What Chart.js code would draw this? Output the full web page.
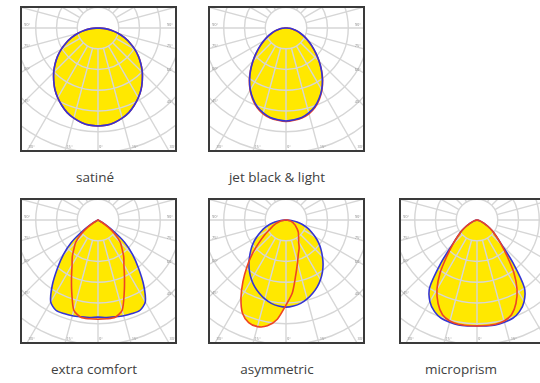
<!DOCTYPE html>
<html>
<head>
<meta charset="utf-8">
<script src="https://cdn.jsdelivr.net/npm/chart.js@4.4.1/dist/chart.umd.min.js"></script>
<style>
  body { margin: 0; width: 540px; height: 383px; overflow: hidden; position: relative; background: #fff; font-family: "Open Sans", sans-serif; }
  .box { position: absolute; width: 153px; height: 142px; border: 2px solid #3a3a3a; overflow: hidden; background: #fff; }
  .box canvas { position: absolute; }
  .caption { position: absolute; width: 180px; text-align: center; font-size: 13.5px; line-height: 18px; color: #404040; }
</style>
</head>
<body>
<script>
// luminous intensity profiles (cd/klm), one value every 5 deg from nadir (0) up to 90 deg
const gammaAngles = [0, 5, 10, 15, 20, 25, 30, 35, 40, 45, 50, 55, 60, 65, 70, 75, 80, 85, 90];

const satineC0 = [236, 235, 231, 225, 217, 206, 194, 181, 166, 151, 135, 119, 102, 85, 68, 51, 34, 17, 0];
const satineC90 = [236, 235, 231, 225, 217, 206, 194, 181, 166, 151, 135, 119, 102, 85, 68, 51, 34, 17, 0];

const jetC0 = [224, 222, 219, 212, 202, 188, 172, 153, 133, 113, 94, 77, 62, 49, 37, 27, 17, 9, 0];
const jetC90 = [225, 223, 220, 214, 204, 190, 173, 154, 133, 112, 93, 76, 61, 48, 36, 26, 17, 8, 0];

const comfortC0 = [234, 236, 237, 239, 240, 240, 228, 192, 152, 118, 84, 42, 13, 0, 0, 0, 0, 0, 0];
const comfortC90 = [239, 239, 238, 225, 185, 151, 125, 108, 90, 76, 55, 29, 7, 0, 0, 0, 0, 0, 0];

const asymC0 = [210, 208, 204, 197, 188, 178, 166, 153, 139, 124, 110, 96, 81, 67, 54, 40, 27, 13, 0];
const asymC90Left = [205, 240, 259, 266, 263, 248, 217, 181, 146, 114, 85, 63, 45, 35, 27, 18, 11, 5, 0];
const asymC90Right = [205, 176, 135, 107, 87, 75, 61, 53, 47, 42, 36, 30, 26, 21, 17, 13, 8, 4, 0];

const prismC0 = [255, 256, 257, 255, 252, 243, 227, 199, 135, 84, 60, 45, 30, 18, 10, 5, 0, 0, 0];
const prismC90 = [255, 255, 255, 252, 243, 222, 193, 155, 112, 82, 60, 45, 30, 18, 10, 5, 0, 0, 0];

const captions = ['satiné', 'jet black & light', 'extra comfort', 'asymmetric', 'microprism'];

// polar grid: rings every 50 cd/klm, spokes every 15 deg
const ringValues = [50, 100, 150, 200, 250, 300, 350, 400];
const spokeAngles = [0, 15, 30, 45, 60, 75, 90, 105, 120, 135, 150, 165, 180, 195, 210, 225, 240, 255, 270, 285, 300, 315, 330, 345];
const spokeLabels = ['0°', '15°', '30°', '45°', '60°', '75°', '90°', '105°'];

const STEP = 5;
const SLOTS = 360 / STEP;
const BLUE = '#3434d4';
const RED = '#ee4423';
const YELLOW = '#ffe800';

// layout of the five diagrams
const boxLeft = [20, 208, 399, 20, 208, 399];
const boxTop = [6, 6, 6, 198, 198, 198];
const captionCx = [95, 277, 94, 277, 461];
const captionCy = [177, 177, 369, 369, 369];
const ORIGIN_X = 76, ORIGIN_Y = 20;   // lamp position inside the frame
const R = 166;                        // canvas half size = radius of 400 cd/klm

// full 360 ring of values: index grows from nadir towards the left side
function toRing(left, right) {
  const out = new Array(SLOTS).fill(0);
  gammaAngles.forEach((g, i) => {
    out[g / STEP] = left[i];
    if (g > 0) out[(360 - g) / STEP] = right[i];
  });
  return out;
}

const ringLabels = [];
for (let i = 0; i < SLOTS; i++) ringLabels.push(i * STEP + '°');

const polarGrid = {
  id: 'polarGrid',
  beforeDatasetsDraw(chart, args, opts) {
    const r = chart.scales.r;
    const ctx = chart.ctx;
    ctx.save();
    ctx.strokeStyle = opts.color;
    ctx.lineWidth = opts.width;
    ringValues.forEach(v => {
      ctx.beginPath();
      ctx.arc(r.xCenter, r.yCenter, r.getDistanceFromCenterForValue(v), 0, Math.PI * 2);
      ctx.stroke();
    });
    spokeAngles.forEach(a => {
      const p0 = r.getPointPositionForValue(a / STEP, ringValues[0]);
      const p1 = r.getPointPositionForValue(a / STEP, r.max);
      ctx.beginPath();
      ctx.moveTo(p0.x, p0.y);
      ctx.lineTo(p1.x, p1.y);
      ctx.stroke();
    });
    ctx.restore();
  },
  afterDraw(chart, args, opts) {
    const r = chart.scales.r;
    const ctx = chart.ctx;
    const v = opts.view;
    ctx.save();
    ctx.fillStyle = '#8a8a8a';
    ctx.font = '4px "Open Sans"';
    ctx.textBaseline = 'bottom';
    spokeLabels.forEach((txt, k) => {
      [k * 15, 360 - k * 15].forEach((a, side) => {
        if (k === 0 && side === 1) return;
        const p = r.getPointPositionForValue((a % 360) / STEP, r.max);
        const dx = p.x - r.xCenter, dy = p.y - r.yCenter;
        const tx = dx < 0 ? (v.x - r.xCenter) / dx : (v.x + v.w - r.xCenter) / dx;
        const ty = dy > 0 ? (v.y + v.h - r.yCenter) / dy : Infinity;
        if (ty <= tx) {
          ctx.textAlign = 'left';
          ctx.fillText(txt, r.xCenter + dx * ty + 1, v.y + v.h - 1);
        } else {
          const y = r.yCenter + dy * tx - 1;
          ctx.textAlign = dx < 0 ? 'left' : 'right';
          ctx.fillText(txt, dx < 0 ? v.x + 2 : v.x + v.w - 2, y);
        }
      });
    });
    ctx.restore();
  }
};

const panels = [
  { c0L: satineC0, c0R: satineC0, c90L: satineC90, c90R: satineC90, redTop: false },
  { c0L: jetC0, c0R: jetC0, c90L: jetC90, c90R: jetC90, redTop: false },
  { c0L: comfortC0, c0R: comfortC0, c90L: comfortC90, c90R: comfortC90, redTop: true },
  { c0L: asymC0, c0R: asymC0, c90L: asymC90Left, c90R: asymC90Right, redTop: true },
  { c0L: prismC0, c0R: prismC0, c90L: prismC90, c90R: prismC90, redTop: true }
];
const slotOf = [0, 1, 3, 4, 5];

panels.forEach((p, n) => {
  const s = slotOf[n];
  const box = document.createElement('div');
  box.className = 'box';
  box.style.left = boxLeft[s] + 'px';
  box.style.top = boxTop[s] + 'px';
  const canvas = document.createElement('canvas');
  canvas.width = 2 * R;
  canvas.height = 2 * R;
  canvas.style.left = (ORIGIN_X - R) + 'px';
  canvas.style.top = (ORIGIN_Y - R) + 'px';
  box.appendChild(canvas);
  document.body.appendChild(box);

  const cap = document.createElement('div');
  cap.className = 'caption';
  cap.textContent = captions[n];
  cap.style.left = (captionCx[n] - 90) + 'px';
  cap.style.top = (captionCy[n] - 9) + 'px';
  document.body.appendChild(cap);

  new Chart(canvas, {
    type: 'radar',
    data: {
      labels: ringLabels,
      datasets: [
        { label: 'C0-C180', data: toRing(p.c0L, p.c0R), borderColor: BLUE, order: 1 },
        { label: 'C90-C270', data: toRing(p.c90L, p.c90R), borderColor: RED, order: p.redTop ? 0 : 2 }
      ].map(d => Object.assign(d, { backgroundColor: YELLOW, fill: 'origin', borderWidth: 1.6, pointRadius: 0, tension: 0.25 }))
    },
    options: {
      responsive: false,
      animation: false,
      events: [],
      layout: { padding: 0 },
      scales: {
        r: {
          min: 0,
          max: 400,
          startAngle: 180,
          grid: { display: false },
          angleLines: { display: false },
          ticks: { display: false },
          pointLabels: { display: false }
        }
      },
      plugins: {
        legend: { display: false },
        tooltip: { enabled: false },
        filler: { drawTime: 'beforeDatasetsDraw' },
        polarGrid: { color: '#d6d6d6', width: 1.4, view: { x: R - ORIGIN_X, y: R - ORIGIN_Y, w: 153, h: 142 } }
      }
    },
    plugins: [polarGrid]
  });
});
</script>
</body>
</html>
